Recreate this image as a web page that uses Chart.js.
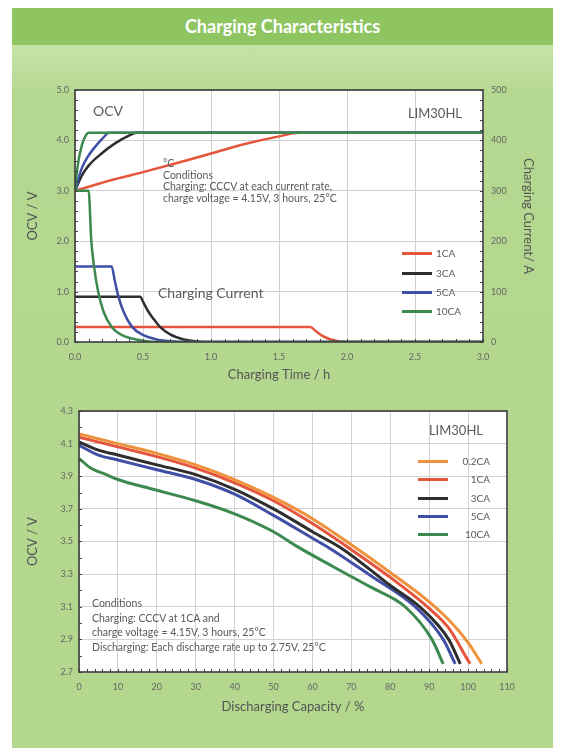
<!DOCTYPE html>
<html>
<head>
<meta charset="utf-8">
<script src="https://cdn.jsdelivr.net/npm/chart.js@4.4.1/dist/chart.umd.min.js"></script>
<style>
  body { margin: 0; background: #fff; font-family: Lato, "Open Sans", sans-serif; }
  #page { position: relative; width: 564px; height: 751px; overflow: hidden; }
  #panel { position: absolute; left: 12px; top: 8px; width: 541px; height: 740px;
    background: linear-gradient(#c4e2a6 40px, #b4d88f 90px, #b3d78d); }
  #banner { position: absolute; left: 12px; top: 8px; width: 541px; height: 37px; background: #8ec561;
    color: #fff; font-weight: bold; font-size: 18px; text-align: center; line-height: 37px; }
  canvas { position: absolute; left: 0; }
  .txt { position: absolute; color: #5a5a5a; white-space: nowrap; line-height: 1; }
  .sw { position: absolute; height: 3px; }
</style>
</head>
<body>
<div id="page">
  <div id="panel"></div>
  <div id="banner">Charging Characteristics</div>
  <canvas id="chargeChart" width="564" height="340" style="top:50px"></canvas>
  <canvas id="dischargeChart" width="564" height="361" style="top:390px"></canvas>

  <!-- top chart texts -->
  <div class="txt" style="left:93px;top:104px;font-size:14px">OCV</div>
  <div class="txt" style="left:393px;top:107px;font-size:13px;width:69px;text-align:right">LIM30HL</div>
  <div class="txt" style="left:163px;top:158px;font-size:10.5px;line-height:11.7px">°C<br>Conditions<br>Charging: CCCV at each current rate,<br>charge voltage = 4.15V, 3 hours, 25°C</div>
  <div class="txt" style="left:158px;top:286px;font-size:14px">Charging Current</div>
  <div id="legendTop"></div>

  <!-- bottom chart texts -->
  <div class="txt" style="left:414px;top:424px;font-size:13px;width:69px;text-align:right">LIM30HL</div>
  <div class="txt" style="left:92px;top:596px;font-size:10.5px;line-height:14.6px">Conditions<br>Charging: CCCV at 1CA and<br>charge voltage = 4.15V, 3 hours, 25°C<br>Discharging: Each discharge rate up to 2.75V, 25°C</div>
  <div id="legendBottom"></div>
</div>
<script>
// ---- Charging characteristics (time h, OCV V) ----
const ocv1CA  = [[0,3.0],[0.1,3.08],[0.25,3.2],[0.5,3.37],[0.75,3.55],[1.0,3.74],[1.25,3.93],[1.5,4.08],[1.65,4.15],[3.0,4.15]];
const ocv3CA  = [[0,3.0],[0.05,3.3],[0.1,3.5],[0.2,3.75],[0.3,3.95],[0.4,4.1],[0.45,4.15],[3.0,4.15]];
const ocv5CA  = [[0,3.0],[0.05,3.45],[0.1,3.7],[0.15,3.88],[0.2,4.03],[0.25,4.15],[3.0,4.15]];
const ocv10CA = [[0,3.0],[0.02,3.5],[0.05,3.9],[0.08,4.1],[0.1,4.15],[3.0,4.15]];

// ---- Charging current (time h, A) ----
const cur1CA  = [[0,30],[1.73,30],[1.77,22],[1.82,12],[1.88,5],[1.95,1],[2.0,0],[3.0,0]];
const cur3CA  = [[0,90],[0.48,90],[0.5,80],[0.54,60],[0.58,45],[0.625,30],[0.7,15],[0.8,5],[0.9,1],[1.0,0],[3.0,0]];
const cur5CA  = [[0,150],[0.27,150],[0.29,125],[0.31,100],[0.35,65],[0.42,30],[0.5,14],[0.6,5],[0.7,1.5],[0.8,0],[3.0,0]];
const cur10CA = [[0,300],[0.1,300],[0.12,200],[0.14,150],[0.17,100],[0.21,60],[0.27,30],[0.35,13],[0.45,5],[0.6,0],[3.0,0]];

// ---- Discharging characteristics (capacity %, OCV V) ----
const dis02CA = [[0,4.16],[10,4.10],[20,4.04],[30,3.97],[40,3.88],[50,3.77],[60,3.64],[70,3.48],[80,3.31],[90,3.13],[95,3.02],[100,2.88],[103.5,2.75]];
const dis1CA  = [[0,4.14],[10,4.08],[20,4.02],[30,3.95],[40,3.86],[50,3.75],[60,3.61],[70,3.45],[80,3.28],[90,3.09],[95,2.97],[100,2.77],[100.5,2.75]];
const dis3CA  = [[0,4.11],[5,4.06],[10,4.03],[20,3.97],[30,3.91],[40,3.82],[50,3.70],[60,3.56],[68,3.45],[80,3.23],[88,3.09],[95,2.9],[98,2.75]];
const dis5CA  = [[0,4.09],[5,4.03],[10,4.0],[20,3.94],[30,3.88],[40,3.79],[50,3.66],[60,3.52],[65,3.45],[75,3.29],[86.4,3.1],[93.6,2.9],[96.7,2.75]];
const dis10CA = [[0,4.01],[3,3.95],[7,3.91],[10,3.88],[19,3.82],[30,3.75],[40,3.67],[50,3.56],[56,3.47],[65,3.35],[75,3.22],[83.8,3.1],[90.7,2.9],[93.6,2.75]];

const chargeLabels = ['1CA', '3CA', '5CA', '10CA'];
const dischargeLabels = ['0.2CA', '1CA', '3CA', '5CA', '10CA'];

const RED = '#e5553c', BLACK = '#2e2e2e', BLUE = '#3f4fa5', GREEN = '#3d8a50', ORANGE = '#f0913c';
const FONT = 'Lato, "Open Sans", sans-serif';
const TICK = { family: FONT, size: 9 };
const TITLE = { family: FONT, size: 13 };

const xy = arr => arr.map(([x, y]) => ({ x, y }));

// white plot area, inward minor ticks and dark frame
const framePlugin = {
  id: 'frame',
  beforeDraw(chart) {
    const { ctx, chartArea: a } = chart;
    ctx.save();
    ctx.fillStyle = '#fff';
    ctx.fillRect(a.left, a.top, a.right - a.left, a.bottom - a.top);
    ctx.restore();
  },
  afterDatasetsDraw(chart, args, opts) {
    const { ctx, chartArea: a } = chart;
    ctx.save();
    ctx.strokeStyle = '#444';
    ctx.lineWidth = 1;
    (opts.minor || []).forEach(m => {
      const s = chart.scales[m.id];
      for (let v = s.min; v <= s.max + 1e-9; v += m.step) {
        const p = Math.round(s.getPixelForValue(v)) + 0.5;
        ctx.beginPath();
        if (m.side === 'bottom') { ctx.moveTo(p, a.bottom); ctx.lineTo(p, a.bottom - 3); }
        if (m.side === 'left') { ctx.moveTo(a.left, p); ctx.lineTo(a.left + 3, p); }
        if (m.side === 'right') { ctx.moveTo(a.right, p); ctx.lineTo(a.right - 3, p); }
        ctx.stroke();
      }
    });
    ctx.strokeStyle = '#3c3c3c';
    ctx.lineWidth = 1.6;
    ctx.strokeRect(a.left, a.top, a.right - a.left, a.bottom - a.top);
    ctx.restore();
  }
};

function line(label, data, color, axis, order, width) {
  return {
    label, data: xy(data), borderColor: color, backgroundColor: color, yAxisID: axis,
    borderWidth: width, pointRadius: 0, cubicInterpolationMode: 'monotone', order
  };
}

// Charging chart
new Chart(document.getElementById('chargeChart'), {
  type: 'line',
  data: {
    datasets: [
      line('1CA', ocv1CA, RED, 'y', 4, 2.5),
      line('3CA', ocv3CA, BLACK, 'y', 3, 2.5),
      line('5CA', ocv5CA, BLUE, 'y', 2, 2.5),
      line('10CA', ocv10CA, GREEN, 'y', 1, 2.5),
      line('1CA', cur1CA, RED, 'y2', 4, 2.5),
      line('3CA', cur3CA, BLACK, 'y2', 3, 2.5),
      line('5CA', cur5CA, BLUE, 'y2', 2, 2.5),
      line('10CA', cur10CA, GREEN, 'y2', 1, 2.5)
    ]
  },
  options: {
    responsive: false,
    animation: false,
    layout: { padding: { top: 40, left: 25, right: 28, bottom: 7 } },
    plugins: {
      legend: { display: false },
      tooltip: { enabled: false },
      frame: { minor: [
        { id: 'x', step: 0.1, side: 'bottom' },
        { id: 'y', step: 0.2, side: 'left' },
        { id: 'y2', step: 20, side: 'right' }
      ] }
    },
    scales: {
      x: {
        type: 'linear', min: 0, max: 3,
        afterFit: s => { s.height = 41; },
        ticks: { stepSize: 0.5, padding: 10, color: '#666', font: TICK, callback: v => v.toFixed(1) },
        grid: { color: '#cfcfcf', drawTicks: false },
        border: { display: false },
        title: { display: true, text: 'Charging Time / h', color: '#555', font: TITLE, padding: 0 }
      },
      y: {
        min: 0, max: 5,
        afterFit: s => { s.width = 50; },
        ticks: { stepSize: 1, padding: 6, color: '#666', font: TICK, callback: v => v.toFixed(1) },
        grid: { color: '#cfcfcf', drawTicks: false },
        border: { display: false },
        title: { display: true, text: 'OCV / V', color: '#555', font: TITLE, padding: 0 }
      },
      y2: {
        position: 'right', min: 0, max: 500,
        afterFit: s => { s.width = 53; },
        ticks: { stepSize: 100, padding: 8, color: '#666', font: TICK },
        grid: { display: false, drawTicks: false },
        border: { display: false },
        title: { display: true, text: 'Charging Current/ A', color: '#555', font: TITLE, padding: 0 }
      }
    }
  },
  plugins: [framePlugin]
});

// Discharging chart
new Chart(document.getElementById('dischargeChart'), {
  type: 'line',
  data: {
    datasets: [
      line('0.2CA', dis02CA, ORANGE, 'y', 1, 3),
      line('1CA', dis1CA, RED, 'y', 2, 3),
      line('3CA', dis3CA, BLACK, 'y', 3, 3),
      line('5CA', dis5CA, BLUE, 'y', 4, 3),
      line('10CA', dis10CA, GREEN, 'y', 5, 3)
    ]
  },
  options: {
    responsive: false,
    animation: false,
    layout: { padding: { top: 21, left: 25, right: 57, bottom: 36 } },
    plugins: {
      legend: { display: false },
      tooltip: { enabled: false },
      frame: { minor: [
        { id: 'x', step: 2, side: 'bottom' },
        { id: 'y', step: 0.1, side: 'left' }
      ] }
    },
    scales: {
      x: {
        type: 'linear', min: 0, max: 110,
        afterFit: s => { s.height = 43; },
        ticks: { stepSize: 10, padding: 10, color: '#666', font: TICK },
        grid: { color: '#d2d2d2', drawTicks: false },
        border: { display: false },
        title: { display: true, text: 'Discharging Capacity / %', color: '#555', font: TITLE, padding: 0 }
      },
      y: {
        min: 2.7, max: 4.3,
        afterFit: s => { s.width = 54; },
        ticks: { stepSize: 0.2, padding: 6, color: '#666', font: TICK, callback: v => v.toFixed(1) },
        grid: { color: '#d2d2d2', drawTicks: false },
        border: { display: false },
        title: { display: true, text: 'OCV / V', color: '#555', font: TITLE, padding: 0 }
      }
    }
  },
  plugins: [framePlugin]
});

// HTML legends
function buildLegend(el, labels, colors, rows, swLeft, txtStyle) {
  labels.forEach((lab, i) => {
    const sw = document.createElement('div');
    sw.className = 'sw';
    sw.style.cssText = `left:${swLeft}px;top:${rows[i] - 1.5}px;width:30px;background:${colors[i]}`;
    el.appendChild(sw);
    const t = document.createElement('div');
    t.className = 'txt';
    t.textContent = lab;
    t.style.cssText += `top:${rows[i] - 5}px;font-size:10px;` + txtStyle;
    el.appendChild(t);
  });
}
buildLegend(document.getElementById('legendTop'), chargeLabels, [RED, BLACK, BLUE, GREEN],
  [253, 273, 292, 311], 402, 'left:436px;');
buildLegend(document.getElementById('legendBottom'), dischargeLabels, [ORANGE, RED, BLACK, BLUE, GREEN],
  [461, 479, 498, 516, 534], 418, 'left:450px;width:40px;text-align:right;');
</script>
</body>
</html>
